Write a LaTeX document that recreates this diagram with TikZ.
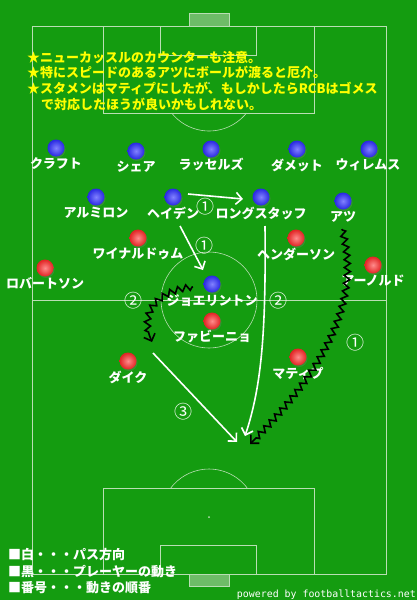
\documentclass[tikz,border=0pt]{standalone}
\usepackage{fontspec}
\newfontfamily\jpfont{Noto Sans CJK JP}
\newfontfamily\webfont{DejaVu Sans Mono}
\usetikzlibrary{arrows.meta,decorations.pathmorphing,shadows}

\definecolor{grass}{RGB}{20,156,16}
\definecolor{chalk}{RGB}{185,222,180}
\definecolor{goalfill}{RGB}{110,188,104}
\definecolor{memo}{RGB}{255,255,0}
\definecolor{ncllight}{RGB}{130,130,255}
\definecolor{ncldark}{RGB}{40,40,225}
\definecolor{livlight}{RGB}{255,140,140}
\definecolor{livdark}{RGB}{225,35,35}

\tikzset{
  pitchline/.style={draw=chalk,line width=0.6pt},
  player/.style={circle,minimum size=17pt,inner sep=0pt,
    drop shadow={shadow xshift=1pt,shadow yshift=-1.5pt,opacity=.3}},
  liverpool/.style={player,shading=radial,inner color=livlight,outer color=livdark},
  newcastle/.style={player,shading=radial,inner color=ncllight,outer color=ncldark},
  namelabel/.style={text=white,inner sep=0pt,font=\jpfont\bfseries\fontsize{13}{13}\selectfont},
  memotext/.style={text=memo,inner sep=0pt,anchor=base west,font=\jpfont\bfseries\fontsize{13}{13}\selectfont},
  keytext/.style={text=white,inner sep=0pt,anchor=base west,font=\jpfont\bfseries\fontsize{13}{13}\selectfont},
  stepno/.style={text=white,inner sep=0pt,font=\jpfont\fontsize{18}{18}\selectfont},
  pass/.style={draw=white,line width=1.6pt,-{Straight Barb[length=6pt,width=12pt]}},
  run/.style={draw=black,line width=1.6pt,-{Straight Barb[length=6pt,width=12pt]},
    decorate,decoration={zigzag,segment length=8pt,amplitude=3pt,pre length=1pt,post length=7pt}},
}

\begin{document}
\begin{tikzpicture}[x=1pt,y=-1pt]
	\useasboundingbox (0,0) rectangle (417,600);
	\fill[grass] (0,0) rectangle (417,600);

	% pitch
	\draw[pitchline] (32,26) rectangle (386,574);
	\draw[pitchline] (32,300) -- (386,300);
	\draw[pitchline] (209,300) circle (48);
	\fill[chalk] (209,300) circle (1);
	\draw[pitchline] (103,26) rectangle (314,113);
	\draw[pitchline] (160,26) rectangle (256,55);
	\draw[pitchline,fill=goalfill] (189,13) rectangle (229,26);
	\draw[pitchline] (246.5,113) arc[start angle=38.7,end angle=141.3,radius=48];
	\fill[chalk] (209,83) circle (1);
	\draw[pitchline] (103,488) rectangle (314,574);
	\draw[pitchline] (160,545) rectangle (256,574);
	\draw[pitchline,fill=goalfill] (189,574) rectangle (229,586);
	\draw[pitchline] (247.2,488) arc[start angle=-37.2,end angle=-142.8,radius=48];
	\fill[chalk] (209,517) circle (1);

	% notes
	\node[memotext] (memo1) at (27,62)  {★ニューカッスルのカウンターも注意。};
	\node[memotext] (memo2) at (27,77)  {★特にスピードのあるアツにボールが渡ると厄介。};
	\node[memotext] (memo3) at (27,93)  {★スタメンはマティプにしたが、もしかしたらRCBはゴメス};
	\node[memotext] (memo4) at (41,109) {で対応したほうが良いかもしれない。};

	% Newcastle
	\node[newcastle] (krafth)    at (56,148)  {};
	\node[newcastle] (schar)     at (136,151) {};
	\node[newcastle] (lascelles) at (211,149) {};
	\node[newcastle] (dummett)   at (297,149) {};
	\node[newcastle] (willems)   at (369,149) {};
	\node[newcastle] (almiron)   at (96,197)  {};
	\node[newcastle] (hayden)    at (173,197) {};
	\node[newcastle] (longstaff) at (261,197) {};
	\node[newcastle] (atsu)      at (343,201) {};
	\node[newcastle] (joelinton) at (212,284) {};
	\node[namelabel] (krafth-l)    at (56,164)  {クラフト};
	\node[namelabel] (schar-l)     at (136,167) {シェア};
	\node[namelabel] (lascelles-l) at (211,164) {ラッセルズ};
	\node[namelabel] (dummett-l)   at (297,165) {ダメット};
	\node[namelabel] (willems-l)   at (368,165) {ウィレムス};
	\node[namelabel] (almiron-l)   at (96,213)  {アルミロン};
	\node[namelabel] (hayden-l)    at (173,213) {ヘイデン};
	\node[namelabel] (longstaff-l) at (261,213) {ロングスタッフ};
	\node[namelabel] (atsu-l)      at (343,217) {アツ};
	\node[namelabel] (joelinton-l) at (212,301) {ジョエリントン};

	% Liverpool
	\node[liverpool] (wijnaldum)  at (138,238) {};
	\node[liverpool] (henderson)  at (296,238) {};
	\node[liverpool] (robertson)  at (45,268)  {};
	\node[liverpool] (arnold)     at (373,265) {};
	\node[liverpool] (fabinho)    at (212,321) {};
	\node[liverpool] (vandijk)    at (128,361) {};
	\node[liverpool] (matip)      at (298,357) {};
	\node[namelabel] (wijnaldum-l) at (138,254) {ワイナルドゥム};
	\node[namelabel] (henderson-l) at (296,254) {ヘンダーソン};
	\node[namelabel] (robertson-l) at (45,283)  {ロバートソン};
	\node[namelabel] (arnold-l)    at (373,281) {アーノルド};
	\node[namelabel] (fabinho-l)   at (212,337) {ファビーニョ};
	\node[namelabel] (vandijk-l)   at (128,377) {ダイク};
	\node[namelabel] (matip-l)     at (298,373) {マティプ};

	% passes and runs
	\coordinate (pass1a) at (188,194);
	\coordinate (pass1b) at (243,199);
	\coordinate (pass2a) at (180,226);
	\coordinate (pass2b) at (203,270);
	\coordinate (pass3a) at (265,226);
	\coordinate (pass3b) at (245,436);
	\coordinate (pass4a) at (153,353);
	\coordinate (pass4b) at (237,442);
	\coordinate (run1a)  at (193,287);
	\coordinate (run1b)  at (152,342);
	\coordinate (run2a)  at (342,229);
	\coordinate (run2b)  at (250,444);
	\draw[pass] (pass1a) -- (pass1b);
	\draw[pass] (pass2a) -- (pass2b);
	\draw[pass] (pass3a) .. controls (266,330) and (262,385) .. (pass3b);
	\draw[pass] (pass4a) -- (pass4b);
	\draw[run] (run1a) .. controls (158,290) and (138,312) .. (run1b);
	\draw[run] (run2a) .. controls (362,300) and (325,370) .. (run2b);

	\node[stepno] (no1a) at (205,207) {①};
	\node[stepno] (no1b) at (204,246) {①};
	\node[stepno] (no1c) at (355,343) {①};
	\node[stepno] (no2a) at (133,301) {②};
	\node[stepno] (no2b) at (278,301) {②};
	\node[stepno] (no3)  at (183,412) {③};

	% key
	\node[keytext] (key1) at (8,559) {■白・・・パス方向};
	\node[keytext] (key2) at (8,576) {■黒・・・プレーヤーの動き};
	\node[keytext] (key3) at (8,592) {■番号・・・動きの順番};
	\node[text=white,inner sep=0pt,anchor=base east,font=\webfont\fontsize{9.9}{10}\selectfont]
		(credit) at (416,597) {powered by footballtactics.net};
\end{tikzpicture}
\end{document}
